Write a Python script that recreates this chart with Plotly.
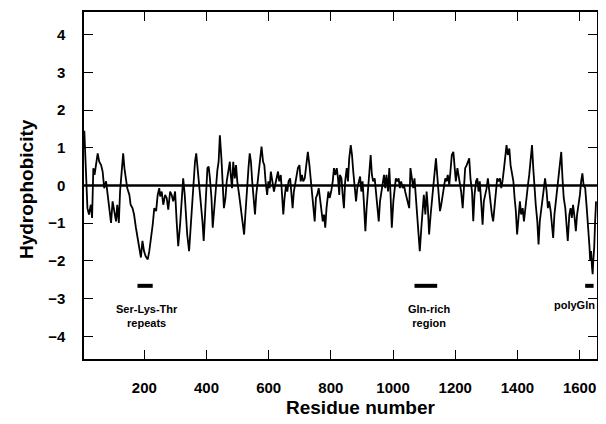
import plotly.graph_objects as go

# -----------------------------------------------------------------------------
# Data
# -----------------------------------------------------------------------------

residue = [
    7, 17, 22, 28, 32, 36, 40, 45, 50, 55, 61, 66, 71, 77, 82, 88, 93, 98, 104, 109,
    113, 118, 122, 127, 132, 136, 140, 145, 152, 156, 162, 167, 173, 179, 184, 189, 194, 199, 204, 211,
    216, 222, 227, 232, 238, 243, 248, 251, 256, 261, 267, 272, 277, 283, 288, 293, 299, 304, 309, 315,
    320, 325, 330, 334, 338, 344, 349, 353, 358, 363, 367, 372, 377, 381, 387, 391, 395, 398, 403, 407,
    411, 416, 420, 425, 431, 435, 439, 443, 448, 452, 456, 461, 465, 470, 475, 478, 482, 486, 491, 495,
    499, 505, 510, 515, 521, 525, 529, 535, 539, 543, 547, 552, 556, 560, 565, 569, 573, 577, 582, 586,
    590, 595, 599, 603, 607, 613, 617, 621, 626, 630, 634, 639, 643, 647, 651, 656, 660, 664, 669, 673,
    677, 681, 686, 690, 694, 699, 703, 707, 711, 716, 720, 726, 731, 735, 739, 744, 748, 752, 756, 761,
    765, 769, 774, 778, 782, 786, 792, 796, 801, 806, 810, 814, 819, 823, 827,
    829, 834, 838, 842, 846, 851, 855, 859, 864, 868, 872, 876, 881, 885, 889, 894, 898, 902, 906, 911,
    915, 919, 924, 928, 932, 936, 941, 945, 949, 954, 958, 962, 966, 971, 975, 979, 984, 988, 992, 996,
    1001, 1005, 1009, 1014, 1018, 1022, 1026, 1031, 1035, 1039, 1044, 1048, 1052, 1056, 1061, 1065, 1069, 1074, 1078, 1082,
    1086, 1091, 1095, 1099, 1104, 1108, 1112, 1116, 1121, 1125, 1129, 1134, 1138, 1142, 1146, 1151, 1155, 1159, 1164, 1168,
    1172, 1176, 1181, 1185, 1189, 1194, 1198, 1202, 1207, 1211, 1215, 1219, 1224, 1228, 1232, 1237, 1241, 1245, 1249, 1254,
    1258, 1262, 1267, 1271, 1275, 1279, 1284, 1288, 1292, 1297, 1301, 1305, 1309, 1314, 1318, 1322, 1327, 1331, 1335, 1339,
    1344, 1348, 1352, 1357, 1361, 1365, 1369, 1374, 1378, 1382, 1387, 1391, 1395, 1399, 1404, 1408, 1412, 1417, 1421, 1425,
    1429, 1434, 1438, 1442, 1447, 1451, 1455, 1459, 1464, 1468, 1472, 1477, 1481, 1485, 1489, 1494, 1498, 1502, 1507, 1511,
    1515, 1519, 1524, 1528, 1532, 1537, 1541, 1545, 1549, 1554, 1558, 1562, 1567, 1571, 1575, 1579, 1584, 1588, 1592, 1597,
    1601, 1605, 1609, 1613, 1618, 1623, 1629, 1632, 1634, 1637, 1640, 1642, 1644, 1647, 1650, 1653,
]

hydrophobicity = [
    1.45, -0.60, -0.77, -0.51, -0.86, 0.46, 0.28, 0.54, 0.85, 0.63, 0.54, 0.37, -0.07, 0.11, -0.25, -0.68, -0.99, -0.42, -0.68, -0.95,
    -0.51, -0.99, -0.16, 0.37, 0.85, 0.46, 0.19, -0.07, -0.25, -0.51, -0.60, -0.77, -1.12, -1.39, -1.65, -1.91, -1.47, -1.74, -1.87, -1.96,
    -1.74, -1.39, -1.04, -0.60, -0.68, -0.25, -0.07, -0.29, -0.16, -0.51, -0.25, -0.33, -0.64, -0.16, -0.25, -0.42, -0.16, -0.95, -1.61, -1.04,
    -0.42, 0.19, -0.25, -0.77, -1.30, -1.74, -1.12, -0.60, 0.11, 0.63, 0.85, 0.37, 0.11, -0.42, -0.95, -1.47, -0.95, -0.33, 0.46, 0.50,
    0.19, -0.33, -1.12, -0.60, 0.11, 0.41, 0.63, 1.33, 0.72, -0.07, -0.60, -0.33, 0.11, 0.37, 0.63, 0.28, -0.07, 0.63, 0.19, 0.54,
    0.11, -0.25, -0.60, -0.95, -1.30, -0.77, -0.16, 0.46, 0.85, 0.63, 0.11, -0.42, -0.77, -0.25, 0.11, 0.46, 0.72, 1.03, 0.63, 0.54,
    0.11, -0.25, 0.11, -0.07, 0.37, 0.11, -0.16, 0.02, 0.28, 0.37, 0.11, 0.28, -0.25, -0.77, -0.33, 0.02, -0.16, 0.11, 0.19, -0.16,
    -0.60, -0.16, 0.11, 0.28, 0.46, 0.54, 0.11, 0.28, 0.11, 0.19, 0.46, 0.89, 0.54, 0.19, -0.07, -0.60, -0.95, -0.33, -0.25, -0.07,
    -0.33, -0.60, -0.95, -0.77, -1.12, -0.60, -0.16, -0.33, -0.16, 0.11, 0.46, 0.28, 0.46, 0.19, -0.25,
    0.28, 0.19, -0.25, -0.60, 0.11, 0.46, 0.11, 0.72, 1.07, 0.81, 0.37, -0.07, -0.42, -0.07, 0.11, 0.24, -0.16, 0.11, -0.42, -1.21,
    -0.60, -0.07, 0.37, 0.81, 0.28, 0.11, 0.19, -0.16, -0.60, -0.95, -0.42, -0.16, 0.11, 0.28, -0.07, 0.28, -0.16, 0.46, -0.25, -1.12,
    -0.42, -0.07, 0.19, 0.11, 0.19, -0.07, 0.11, -0.07, 0.02, -0.16, -0.33, -0.51, -0.60, 0.46, 0.19, -0.07, 0.19, -0.33, -0.86, -1.12,
    -1.74, -1.12, -0.60, -0.25, -0.77, -0.16, -0.60, -1.30, -0.77, -0.42, -0.25, 0.37, 0.72, 0.28, -0.16, -0.68, -0.51, -0.25, 0.02, 0.19,
    0.11, 0.28, 0.02, 0.46, 0.81, 0.89, 0.37, 0.11, 0.46, 0.28, 0.02, -0.16, -0.60, 0.11, 0.46, 0.54, 0.63, 0.72, 0.19, -0.16,
    -0.95, -0.25, 0.11, 0.19, -0.16, 0.11, -0.51, -1.04, -0.42, -0.25, -0.07, 0.19, -0.16, -0.51, -0.77, -0.95, -0.42, -0.16, 0.19, 0.11,
    0.19, -0.07, 0.11, 0.46, 0.81, 1.07, 0.81, 0.98, 0.54, 0.28, 0.11, -0.33, -0.68, -1.30, -0.77, -0.42, -0.77, -0.60, -0.95, -0.60,
    -0.25, 0.02, 0.28, 0.63, 1.07, 0.46, -0.16, -0.51, -0.95, -1.56, -0.95, -0.60, -0.33, -0.07, 0.19, -0.16, -0.60, -0.42, -0.68, -1.04,
    -1.39, -0.77, -0.42, -0.07, 0.11, 0.54, 0.89, 0.19, -0.33, -0.60, -0.95, -1.47, -0.77, -0.60, -0.86, -0.51, -0.86, -1.21, -0.77, -0.51,
    -0.25, 0.11, 0.32, 0.00, -0.07, -0.60, -1.20, -1.65, -2.00, -1.74, -2.18, -2.35, -2.00, -1.65, -0.95, -0.42,
]

# marked regions (start, end residue) and their labels
region_start = [178, 1069, 1618]
region_end = [227, 1142, 1645]
region_level = -2.66
region_labels = ["Ser-Lys-Thr<br>repeats", "Gln-rich<br>region", "polyGln"]
label_x = [209, 1115, 1655]
label_y = [-3.46, -3.46, -3.18]
label_anchor = ["center", "center", "right"]

x_ticks = [200, 400, 600, 800, 1000, 1200, 1400, 1600]
y_ticks = [-4, -3, -2, -1, 0, 1, 2, 3, 4]

FONT = "Liberation Sans, Arial, sans-serif"

# -----------------------------------------------------------------------------
# Figure
# -----------------------------------------------------------------------------

fig = go.Figure()

# zero line
fig.add_trace(go.Scatter(x=[6, 1656], y=[0, 0], mode="lines",
                         line=dict(color="black", width=2.5), hoverinfo="skip"))

fig.add_trace(go.Scatter(x=residue, y=hydrophobicity, mode="lines",
                         line=dict(color="black", width=1.8)))

for s, e in zip(region_start, region_end):
    fig.add_trace(go.Scatter(x=[s, e], y=[region_level, region_level], mode="lines",
                             line=dict(color="black", width=4), hoverinfo="skip"))

for txt, xx, yy, anc in zip(region_labels, label_x, label_y, label_anchor):
    fig.add_annotation(x=xx, y=yy, xref="x", yref="y", text=txt, showarrow=False,
                       xanchor=anc, yanchor="middle",
                       font=dict(family=FONT, size=11, color="black", weight="bold"))

# axis titles as annotations for precise placement
fig.add_annotation(x=0.539, y=-0.14, xref="paper", yref="paper", text="Residue number",
                   showarrow=False, xanchor="center", yanchor="middle",
                   font=dict(family=FONT, size=19, color="black", weight="bold"))
fig.add_annotation(x=-0.111, y=0.49, xref="paper", yref="paper", text="Hydrophobicity",
                   showarrow=False, textangle=-90, xanchor="center", yanchor="middle",
                   font=dict(family=FONT, size=19, color="black", weight="bold"))

axis_common = dict(showline=True, linecolor="black", linewidth=1.5, mirror="ticks",
                   ticks="inside", ticklen=9, tickwidth=1.3, tickcolor="black",
                   showgrid=False, zeroline=False,
                   tickfont=dict(family=FONT, size=15, color="black", weight="bold"))

fig.update_xaxes(range=[6, 1656], tickvals=x_ticks, ticklabelstandoff=14, **axis_common)
fig.update_yaxes(range=[-4.6, 4.6], tickvals=y_ticks, ticklabelstandoff=14, **axis_common)

# page body adds an 8px margin, so the figure is 8px smaller than the window
fig.update_layout(width=598, height=416, showlegend=False,
                  margin=dict(l=76, r=9, t=2, b=65),
                  plot_bgcolor="white", paper_bgcolor="white")

fig.write_html("out.html")
